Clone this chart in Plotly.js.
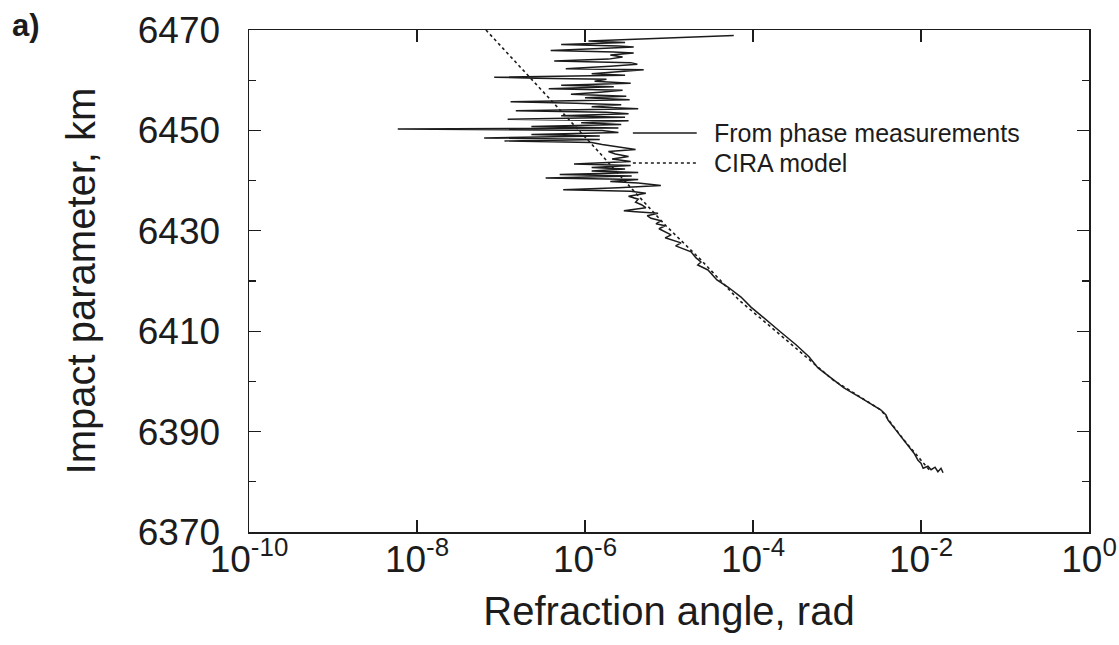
<!DOCTYPE html>
<html>
<head>
<meta charset="utf-8">
<script src="https://cdn.plot.ly/plotly-3.0.1.min.js"></script>
<style>
  html, body { margin: 0; padding: 0; background: #ffffff; }
  #chart { width: 1119px; height: 645px; }
</style>
</head>
<body>
<div id="chart"></div>
<script>
const phaseHeight = [
  6468.9, 6467.8, 6467.5, 6467.1, 6466.8, 6466.6, 6466.3, 6465.9, 6465.6, 6465.4,
  6465.0, 6464.6, 6464.2, 6463.8, 6463.5, 6463.2, 6462.8, 6462.3, 6462.1, 6461.7,
  6461.3, 6461.0, 6460.6, 6460.4, 6460.2, 6459.8, 6459.4, 6459.0, 6458.7, 6458.3,
  6458.0, 6457.6, 6457.2, 6456.8, 6456.5, 6456.1, 6455.7, 6455.4, 6455.1, 6454.7,
  6454.3, 6453.9, 6453.6, 6453.3, 6452.9, 6452.6, 6452.2, 6451.9, 6451.5, 6451.2,
  6450.8, 6450.5, 6450.3, 6450.0, 6449.6, 6449.2, 6448.9, 6448.5, 6448.2, 6447.9,
  6447.6, 6447.2, 6446.7, 6446.2, 6445.8, 6445.3, 6444.8, 6444.3, 6443.8, 6443.3,
  6443.0, 6442.6, 6442.3, 6441.9, 6441.6, 6441.2, 6440.9, 6440.5, 6440.2, 6439.8,
  6439.5, 6439.0, 6438.6, 6438.2, 6437.9, 6437.5, 6436.9, 6436.3, 6435.7, 6435.2,
  6434.6, 6434.0, 6433.8, 6433.5, 6433.0, 6432.5, 6432.0, 6431.4, 6431.0,
  6430.4, 6429.2, 6428.6, 6427.6, 6427.0, 6425.8, 6424.6, 6423.8, 6423.2, 6422.2,
  6420.2, 6418.8, 6416.8, 6414.8, 6412.2, 6409.8, 6407.3, 6404.9, 6402.7, 6400.3,
  6398.7, 6396.7, 6394.3, 6393.3, 6392.3, 6390.3, 6388.3, 6385.7, 6384.3, 6383.7,
  6382.7, 6383.1, 6382.4, 6382.9, 6382.0, 6382.7, 6381.8
];
const phaseAngle = [
  5.9e-5, 1.1e-6, 3.0e-6, 5.2e-7, 2.5e-6, 3.8e-6, 1.5e-6, 3.9e-7, 2.2e-6, 3.8e-6,
  2.0e-6, 2.8e-6, 1.9e-6, 4.3e-7, 3.5e-6, 4.2e-6, 2.0e-6, 5.9e-7, 5.0e-6, 2.4e-6,
  1.2e-6, 3.0e-6, 8.3e-8, 2.6e-7, 1.8e-6, 1.3e-6, 3.5e-6, 5.2e-7, 2.2e-6, 3.7e-7,
  2.8e-6, 1.5e-6, 6.8e-7, 3.1e-6, 1.0e-6, 3.4e-6, 1.3e-7, 7.8e-7, 2.7e-6, 1.2e-6,
  4.3e-6, 1.5e-7, 1.8e-6, 3.3e-6, 5.2e-7, 3.0e-6, 1.2e-7, 3.3e-6, 9.0e-7, 2.7e-6,
  2.3e-7, 2.5e-6, 5.9e-9, 1.6e-6, 2.5e-6, 2.3e-7, 1.5e-6, 6.3e-8, 1.5e-6, 1.1e-7,
  1.2e-6, 1.6e-6, 2.6e-6, 4.0e-6, 1.9e-6, 2.3e-6, 3.3e-6, 2.1e-6, 3.5e-6, 7.4e-7,
  3.5e-6, 1.2e-6, 3.0e-6, 1.2e-6, 4.3e-6, 5.0e-7, 3.6e-6, 3.4e-7, 4.3e-6, 2.0e-6,
  4.3e-6, 8.0e-6, 2.5e-6, 5.5e-7, 3.5e-6, 5.3e-6, 3.3e-6, 4.3e-6, 4.0e-6, 4.7e-6,
  5.3e-6, 2.9e-6, 4.0e-6, 7.4e-6, 5.5e-6, 6.1e-6, 8.0e-6, 7.0e-6, 9.0e-6,
  7.6e-6, 1.06e-5, 9.0e-6, 1.39e-5, 1.2e-5, 1.83e-5, 2.1e-5, 2.40e-5, 2.2e-5, 2.91e-5,
  3.72e-5, 5.03e-5, 7.20e-5, 9.46e-5, 1.43e-4, 2.15e-4, 3.25e-4, 4.64e-4, 5.94e-4, 8.95e-4,
  1.21e-3, 1.93e-3, 3.34e-3, 3.83e-3, 4.05e-3, 5.03e-3, 6.28e-3, 8.26e-3, 9.21e-3, 1.0e-2,
  1.06e-2, 1.21e-2, 1.32e-2, 1.47e-2, 1.59e-2, 1.73e-2, 1.83e-2
];
// CIRA model profile
const ciraHeight = [6470.0, 6462.0, 6454.1, 6446.1, 6438.1, 6431.0, 6424.2, 6416.2, 6408.3, 6400.3, 6394.3, 6388.3, 6382.4];
const ciraAngle  = [6.62e-8, 1.83e-7, 5.04e-7, 1.39e-6, 3.73e-6, 9.2e-6, 2.40e-5, 6.81e-5, 2.47e-4, 8.95e-4, 3.34e-3, 6.28e-3, 1.25e-2];

const seriesNames = ['From phase measurements', 'CIRA model'];
const xTickVals = [1e-10, 1e-8, 1e-6, 1e-4, 1e-2, 1];
const xTickText = ['10<sup>-10</sup>', '10<sup>-8</sup>', '10<sup>-6</sup>', '10<sup>-4</sup>', '10<sup>-2</sup>', '10<sup>0</sup>'];
const xTitle = 'Refraction angle, rad';
const yTitle = 'Impact parameter, km';
const panelLabel = 'a)';

const FONT = '"Liberation Sans", Arial, Helvetica, sans-serif';
const INK = '#1c1c1c';

const traces = [
  {
    x: ciraAngle, y: ciraHeight, type: 'scatter', mode: 'lines',
    name: seriesNames[1], showlegend: false,
    line: { color: INK, width: 1.6, dash: 'dot' }
  },
  {
    x: phaseAngle, y: phaseHeight, type: 'scatter', mode: 'lines',
    name: seriesNames[0], showlegend: false,
    line: { color: INK, width: 1.5 }
  }
];

// legend drawn as keyed lines plus labels (paper coordinates)
const legendRows = [
  { label: seriesNames[0], dash: 'solid', y: 0.795 },
  { label: seriesNames[1], dash: 'dot', y: 0.735 }
];
const shapes = legendRows.map(r => ({
  type: 'line', xref: 'paper', yref: 'paper',
  x0: 0.457, x1: 0.533, y0: r.y, y1: r.y,
  line: { color: INK, width: 1.5, dash: r.dash }
}));
const annotations = legendRows.map(r => ({
  text: r.label, xref: 'paper', yref: 'paper', x: 0.551, y: r.y,
  xanchor: 'left', yanchor: 'middle', showarrow: false,
  font: { family: FONT, size: 25, color: INK }
}));
annotations.push({
  text: '<b>' + panelLabel + '</b>', xref: 'paper', yref: 'paper',
  x: -0.284, y: 1.048, xanchor: 'left', yanchor: 'top', showarrow: false,
  font: { family: FONT, size: 31, color: INK }
});

const layout = {
  width: 1119, height: 645,
  paper_bgcolor: '#ffffff', plot_bgcolor: '#ffffff',
  margin: { l: 249, r: 30, t: 30, b: 113 },
  font: { family: FONT, color: INK },
  showlegend: false,
  xaxis: {
    type: 'log', range: [-10, 0],
    tickmode: 'array', tickvals: xTickVals, ticktext: xTickText,
    ticks: 'inside', ticklen: 12, tickwidth: 1.3, tickcolor: INK,
    showline: true, linecolor: INK, linewidth: 1.5, mirror: 'ticks',
    showgrid: false, zeroline: false,
    ticklabelstandoff: -6,
    tickfont: { family: FONT, size: 37, color: INK },
    title: { text: xTitle, font: { family: FONT, size: 40, color: INK }, standoff: 18 }
  },
  yaxis: {
    range: [6370, 6470], dtick: 20, tick0: 6370,
    ticks: 'inside', ticklen: 12, tickwidth: 1.3, tickcolor: INK,
    minor: { dtick: 10, ticks: 'inside', ticklen: 7, tickcolor: INK, tickwidth: 1.3, showgrid: false },
    showline: true, linecolor: INK, linewidth: 1.5, mirror: 'ticks',
    showgrid: false, zeroline: false,
    ticklabelstandoff: 20,
    tickfont: { family: FONT, size: 37, color: INK },
    title: { text: yTitle, font: { family: FONT, size: 40, color: INK }, standoff: 30 }
  },
  shapes: shapes,
  annotations: annotations
};

Plotly.newPlot('chart', traces, layout, { staticPlot: true, displayModeBar: false });
</script>
</body>
</html>
